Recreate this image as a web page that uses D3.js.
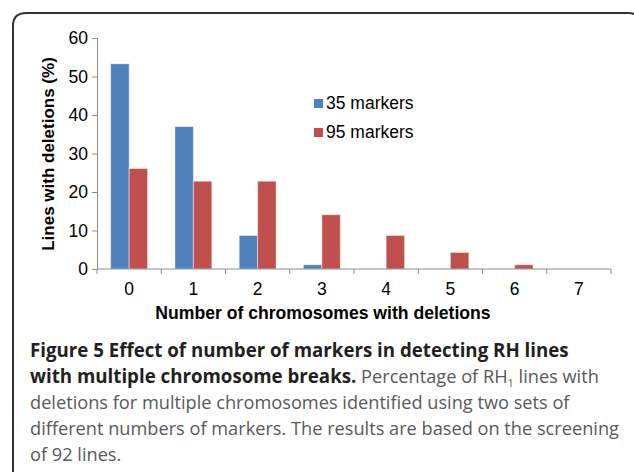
<!DOCTYPE html>
<html>
<head>
<meta charset="utf-8">
<script src="https://cdn.jsdelivr.net/npm/d3@7"></script>
<style>
  html, body { margin: 0; padding: 0; background: #fff; }
  svg { display: block; }
</style>
</head>
<body>
<script>
// data (percent of 92 lines)
const categories = ["0", "1", "2", "3", "4", "5", "6", "7"];
const seriesNames = ["35 markers", "95 markers"];
const markers35 = [53.3, 37.0, 8.7, 1.1, 0, 0, 0, 0];
const markers95 = [26.1, 22.8, 22.8, 14.1, 8.7, 4.3, 1.1, 0];
const yTicks = [0, 10, 20, 30, 40, 50, 60];
const colors = ["#4f81bd", "#c0504d"];

const width = 634, height = 472;
const chartFont = "'Liberation Sans', Arial, sans-serif";
const capFont = "'Open Sans', 'Noto Sans', sans-serif";

const svg = d3.select("body").append("svg")
    .attr("width", width)
    .attr("height", height);

// rounded frame, open at the bottom and running off the right edge
const r = 13;
svg.append("path")
    .attr("d", `M13,${height + 5} L13,${13 + r} Q13,13 ${13 + r},13 L${641 - r},13 Q641,13 641,${13 + r} L641,${height + 5}`)
    .attr("fill", "none")
    .attr("stroke", "#333")
    .attr("stroke-width", 2);

const x = d3.scaleBand()
    .domain(categories)
    .range([97, 611])
    .paddingInner(0)
    .paddingOuter(0);

const xInner = d3.scaleBand()
    .domain(seriesNames)
    .range([0, x.bandwidth()])
    .paddingInner(0)
    .paddingOuter(0.74);

const y = d3.scaleLinear()
    .domain([0, 60])
    .range([269, 38]);

const rows = categories.map((c, i) => ({ cat: c, values: [markers35[i], markers95[i]] }));

// bars
const groups = svg.selectAll(".grp")
    .data(rows)
    .enter().append("g")
    .attr("class", "grp")
    .attr("transform", d => `translate(${x(d.cat)},0)`);

groups.selectAll("rect")
    .data(d => d.values.map((v, i) => ({ name: seriesNames[i], value: v, i: i })))
    .enter().append("rect")
    .filter(d => d.value > 0)
    .attr("x", d => xInner(d.name))
    .attr("y", d => y(d.value))
    .attr("width", xInner.bandwidth())
    .attr("height", d => y(0) - y(d.value))
    .attr("fill", d => colors[d.i])
    .attr("stroke", "#ffffff")
    .attr("stroke-opacity", 0.45)
    .attr("stroke-width", 1);

// y axis
const yAxis = svg.append("g")
    .attr("transform", "translate(97,0)")
    .call(d3.axisLeft(y).tickValues(yTicks).tickSize(5).tickPadding(4));
yAxis.select(".domain").attr("stroke", "#8c8c8c");
yAxis.selectAll(".tick line").attr("stroke", "#8c8c8c");
yAxis.selectAll(".tick text")
    .attr("font-family", chartFont)
    .attr("font-size", 17.5)
    .attr("fill", "#000");

// x axis: ticks sit on the band edges, labels in the middle
const xAxis = svg.append("g");
xAxis.append("line")
    .attr("x1", x.range()[0]).attr("x2", x.range()[1])
    .attr("y1", y(0)).attr("y2", y(0))
    .attr("stroke", "#8c8c8c");
const edges = categories.map(c => x(c)).concat([x.range()[1]]);
xAxis.selectAll(".xtick")
    .data(edges)
    .enter().append("line")
    .attr("class", "xtick")
    .attr("x1", d => d).attr("x2", d => d)
    .attr("y1", y(0)).attr("y2", y(0) + 5)
    .attr("stroke", "#8c8c8c");
xAxis.selectAll(".xlab")
    .data(categories)
    .enter().append("text")
    .attr("class", "xlab")
    .attr("x", d => x(d) + x.bandwidth() / 2)
    .attr("y", 295)
    .attr("text-anchor", "middle")
    .attr("font-family", chartFont)
    .attr("font-size", 17.5)
    .attr("fill", "#000")
    .text(d => d);

// axis titles
svg.append("text")
    .attr("x", 323)
    .attr("y", 319)
    .attr("text-anchor", "middle")
    .attr("font-family", chartFont)
    .attr("font-weight", "bold")
    .attr("font-size", 17.6)
    .attr("fill", "#000")
    .text("Number of chromosomes with deletions");

svg.append("text")
    .attr("transform", "translate(54,154) rotate(-90)")
    .attr("text-anchor", "middle")
    .attr("font-family", chartFont)
    .attr("font-weight", "bold")
    .attr("font-size", 17)
    .attr("fill", "#000")
    .text("Lines with deletions (%)");

// legend
const legend = svg.selectAll(".leg")
    .data(seriesNames)
    .enter().append("g")
    .attr("class", "leg")
    .attr("transform", (d, i) => `translate(314,${99 + i * 29})`);
legend.append("rect")
    .attr("width", 9).attr("height", 9)
    .attr("fill", (d, i) => colors[i]);
legend.append("text")
    .attr("x", 12)
    .attr("y", 10)
    .attr("font-family", chartFont)
    .attr("font-size", 17.5)
    .attr("fill", "#000")
    .text(d => d);

// caption
const capLeft = 30, capTop = 357, capStep = 26;
const cap = svg.append("g")
    .attr("font-family", capFont)
    .attr("font-size", 18.2);

const boldCol = "#231f20", bodyCol = "#58595b";
const line = i => cap.append("text").attr("x", capLeft).attr("y", capTop + i * capStep);

line(0).append("tspan")
    .attr("font-weight", "bold").attr("font-size", 18.7).attr("fill", boldCol)
    .text("Figure 5 Effect of number of markers in detecting RH lines");

const l2 = line(1);
l2.append("tspan").attr("font-weight", "bold").attr("font-size", 18.7).attr("fill", boldCol)
    .text("with multiple chromosome breaks.");
l2.append("tspan").attr("fill", bodyCol).text(" Percentage of RH");
l2.append("tspan").attr("fill", bodyCol).attr("font-size", 11).attr("dy", 4).text("1");
l2.append("tspan").attr("fill", bodyCol).attr("dy", -4).text(" lines with");

line(2).attr("fill", bodyCol)
    .text("deletions for multiple chromosomes identified using two sets of");
line(3).attr("fill", bodyCol)
    .text("different numbers of markers. The results are based on the screening");
line(4).attr("fill", bodyCol)
    .text("of 92 lines.");
</script>
</body>
</html>
